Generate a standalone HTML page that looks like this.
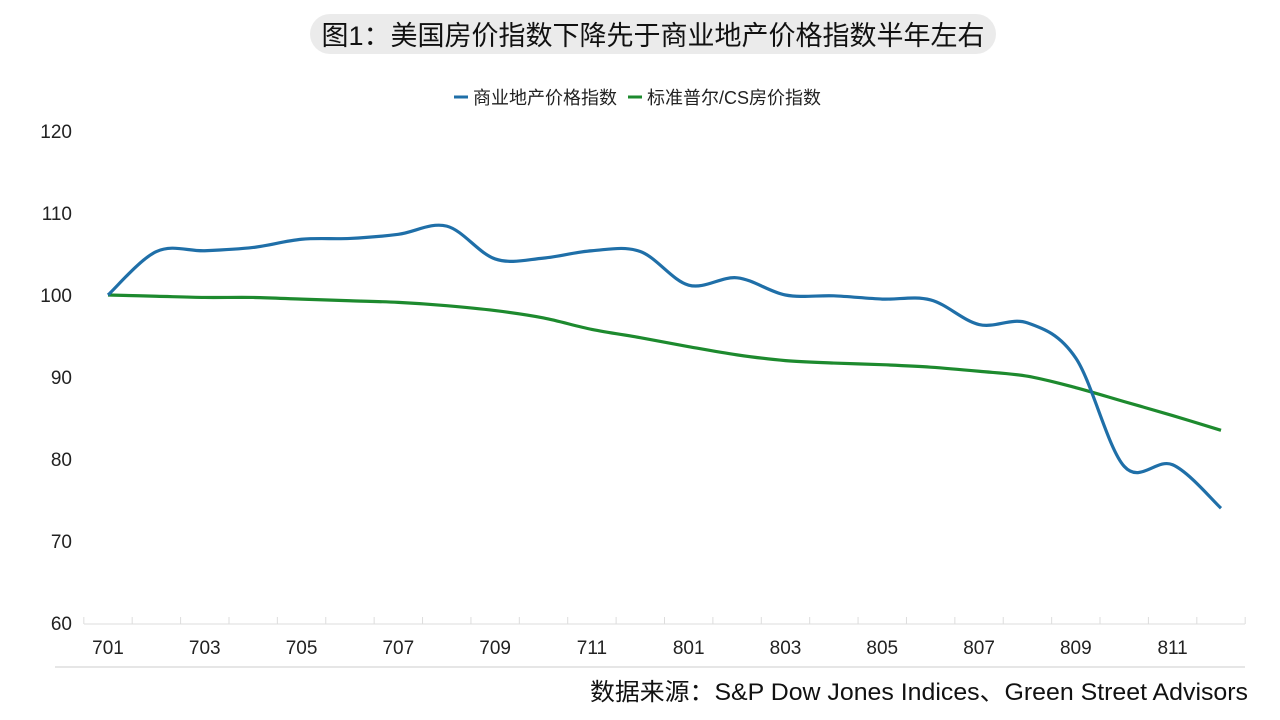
<!DOCTYPE html>
<html><head><meta charset="utf-8"><style>
html,body{margin:0;padding:0;background:#fff;width:1280px;height:720px;overflow:hidden;font-family:"Liberation Sans","Noto Sans CJK SC",sans-serif}
</style></head><body>
<svg id="c" width="1280" height="720" xmlns="http://www.w3.org/2000/svg">
<rect x="310" y="14" width="686" height="40" rx="20" fill="#ebebeb"/>
<text x="653" y="45" text-anchor="middle" font-size="27" fill="#111" font-family="Liberation Sans,Noto Sans CJK SC,sans-serif">图1：美国房价指数下降先于商业地产价格指数半年左右</text>
<g>
<line x1="454" y1="97" x2="468" y2="97" stroke="#1f6fa8" stroke-width="3"/>
<text x="473" y="104" font-size="18" fill="#222">商业地产价格指数</text>
<line x1="628" y1="97" x2="642" y2="97" stroke="#1d8a2e" stroke-width="3"/>
<text x="647" y="104" font-size="18" fill="#222">标准普尔/CS房价指数</text>
</g>
<g id="axes"></g>
<g id="series"></g>
<line x1="55" y1="667" x2="1245" y2="667" stroke="#e6e6e6" stroke-width="2"/>
<text x="590" y="700" font-size="24" fill="#111" textLength="658" lengthAdjust="spacingAndGlyphs">数据来源：S&amp;P Dow Jones Indices、Green Street Advisors</text>
</svg>
<script>
const categories=["701","702","703","704","705","706","707","708","709","710","711","712","801","802","803","804","805","806","807","808","809","810","811","812"];
const commercial=[100,105.3,105.4,105.8,106.8,106.9,107.4,108.4,104.4,104.5,105.4,105.3,101.2,102.1,100.0,99.9,99.5,99.4,96.4,96.6,92.3,79.1,79.3,74.0];
const csIndex=[100,99.85,99.7,99.7,99.5,99.3,99.1,98.7,98.1,97.2,95.8,94.8,93.7,92.7,92.0,91.7,91.5,91.2,90.7,90.1,88.7,87.0,85.3,83.5];
const yTicks=[60,70,80,90,100,110,120];
const ns="http://www.w3.org/2000/svg";
const x=i=>108+i*(1221-108)/(categories.length-1);
const y=v=>623-(v-60)*8.2;
const ax=document.getElementById('axes'),se=document.getElementById('series');
function mk(t,a,p){const e=document.createElementNS(ns,t);for(const k in a)e.setAttribute(k,a[k]);p.appendChild(e);return e;}
yTicks.forEach(v=>{const t=mk('text',{x:72,y:y(v)+7,'text-anchor':'end','font-size':19,fill:'#222'},ax);t.textContent=v;

});
const bl=mk('line',{x1:84,x2:1245,y1:624,y2:624,stroke:'#ddd','stroke-width':1},ax);


const step=(1221-108)/(categories.length-1);
for(let i=0;i<=categories.length;i++){const tk=mk('line',{x1:x(i)-step/2,x2:x(i)-step/2,y1:617,y2:624,stroke:'#ddd'},ax);

}
categories.forEach((c,i)=>{if(i%2)return;const t=mk('text',{x:x(i),y:654,'text-anchor':'middle','font-size':19,fill:'#222'},ax);t.textContent=c;

});
function path(vals){const p=vals.map((v,i)=>[x(i),y(v)]);let d=`M${p[0][0]},${p[0][1]}`;
for(let i=0;i<p.length-1;i++){const p0=p[i-1]||p[i],p1=p[i],p2=p[i+1],p3=p[i+2]||p2;
d+=` C${p1[0]+(p2[0]-p0[0])/6},${p1[1]+(p2[1]-p0[1])/6} ${p2[0]-(p3[0]-p1[0])/6},${p2[1]-(p3[1]-p1[1])/6} ${p2[0]},${p2[1]}`;}return d;}
const l2=mk('path',{d:path(csIndex),fill:'none',stroke:'#1d8a2e','stroke-width':3.2},se);


const l1=mk('path',{d:path(commercial),fill:'none',stroke:'#1f6fa8','stroke-width':3.2},se);


</script>
</body></html>
